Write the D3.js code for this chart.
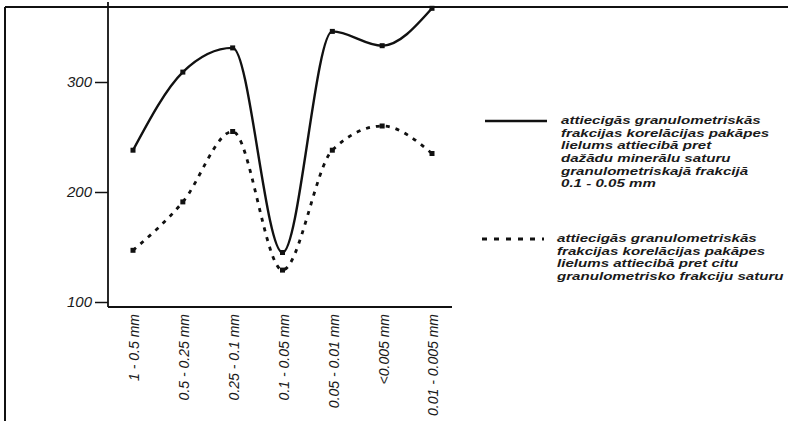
<!DOCTYPE html>
<html>
<head>
<meta charset="utf-8">
<script src="https://cdn.jsdelivr.net/npm/d3@7"></script>
<style>
  body { margin: 0; background: #fff; }
  svg text { font-family: "Liberation Sans", Arial, sans-serif; font-style: italic; fill: #1a1a1a; }
</style>
</head>
<body>
<svg class="chart" width="788" height="421"></svg>
<script>
// fractions along the x axis
var categories = ["1 - 0.5 mm", "0.5 - 0.25 mm", "0.25 - 0.1 mm", "0.1 - 0.05 mm",
                  "0.05 - 0.01 mm", "<0.005 mm", "0.01 - 0.005 mm"];
// solid line: vs. minerals in fraction 0.1 - 0.05 mm
var solidValues = [238, 309, 331, 145, 346, 333, 367];
// dashed line: vs. other fractions
var dashedValues = [147, 191, 255, 129, 238, 260, 235];
var yTicks = [100, 200, 300];

var legend1 = ["attiecigās granulometriskās", "frakcijas korelācijas pakāpes",
               "lielums attiecibā pret", "dažādu minerālu saturu",
               "granulometriskajā frakcijā", "0.1 - 0.05 mm"];
var legend2 = ["attiecigās granulometriskās", "frakcijas korelācijas pakāpes",
               "lielums attiecibā pret citu", "granulometrisko frakciju saturu"];

var svg = d3.select(".chart");

var x = d3.scalePoint().domain(categories).range([133, 432]);
var y = d3.scaleLinear().domain([100, 300]).range([302, 82]);

// outer frame (top + left edge of the scanned page)
svg.append("line").attr("x1", 5).attr("y1", 7).attr("x2", 788).attr("y2", 7)
    .attr("stroke", "#111").attr("stroke-width", 2);
svg.append("line").attr("x1", 5).attr("y1", 7).attr("x2", 5).attr("y2", 421)
    .attr("stroke", "#111").attr("stroke-width", 2);

// axes
svg.append("line").attr("x1", 108).attr("y1", 2).attr("x2", 108).attr("y2", 307)
    .attr("stroke", "#111").attr("stroke-width", 1.8);
svg.append("line").attr("x1", 108).attr("y1", 307).attr("x2", 452).attr("y2", 307)
    .attr("stroke", "#111").attr("stroke-width", 1.8);

var yAxis = svg.append("g")
    .attr("transform", "translate(108,0)")
    .call(d3.axisLeft(y).tickValues(yTicks).tickSize(13).tickPadding(3));
yAxis.select(".domain").remove();
yAxis.selectAll(".tick line").attr("stroke", "#111").attr("stroke-width", 1.5);
yAxis.selectAll(".tick text")
    .style("font-size", "15px").style("font-family", "Liberation Sans, Arial, sans-serif")
    .style("font-style", "italic").attr("fill", "#1a1a1a");

var xAxis = svg.append("g")
    .attr("transform", "translate(0,307)")
    .call(d3.axisBottom(x).tickSize(0).tickPadding(0));
xAxis.select(".domain").remove();
xAxis.selectAll(".tick text")
    .attr("transform", "rotate(-90)")
    .attr("x", -7).attr("y", 1).attr("dy", "0.35em")
    .style("text-anchor", "end")
    .style("font-size", "14px").style("font-family", "Liberation Sans, Arial, sans-serif")
    .style("font-style", "italic").attr("fill", "#1a1a1a");

var line = d3.line()
    .x(function(d, i) { return x(categories[i]); })
    .y(function(d) { return y(d); })
    .curve(d3.curveMonotoneX);

svg.append("path").datum(solidValues)
    .attr("d", line).attr("fill", "none")
    .attr("stroke", "#111").attr("stroke-width", 2.4);

svg.append("path").datum(dashedValues)
    .attr("d", line).attr("fill", "none")
    .attr("stroke", "#111").attr("stroke-width", 2.8)
    .attr("stroke-dasharray", "4,6");

// point markers
[solidValues, dashedValues].forEach(function(vals) {
    svg.append("g").selectAll("rect")
        .data(vals)
        .enter().append("rect")
        .attr("x", function(d, i) { return x(categories[i]) - 2.5; })
        .attr("y", function(d) { return y(d) - 2.5; })
        .attr("width", 5).attr("height", 5)
        .attr("fill", "#111");
});

// legend - the scan's lettering is wide, so stretch text horizontally
function legendBlock(x0, yLine, tx, yText, lines, dashed) {
    var g = svg.append("g");
    g.append("line").attr("x1", x0).attr("x2", x0 + 62)
        .attr("y1", yLine).attr("y2", yLine)
        .attr("stroke", "#111").attr("stroke-width", dashed ? 2.8 : 2.4)
        .attr("stroke-dasharray", dashed ? "5,7" : null);
    var tg = g.append("g");
    var texts = tg.selectAll("text")
        .data(lines)
        .enter().append("text")
        .attr("x", 0)
        .attr("y", function(d, i) { return yText + i * 12.7; })
        .style("font-size", "11.3px")
        .style("font-weight", "bold")
        .text(function(d) { return d; });
    var w = texts.node().getComputedTextLength();
    tg.attr("transform", "translate(" + tx + ",0) scale(" + (200 / w) + ",1)");
}
legendBlock(485, 121, 561, 124, legend1, false);
legendBlock(482, 239, 557, 242, legend2, true);
</script>
</body>
</html>
